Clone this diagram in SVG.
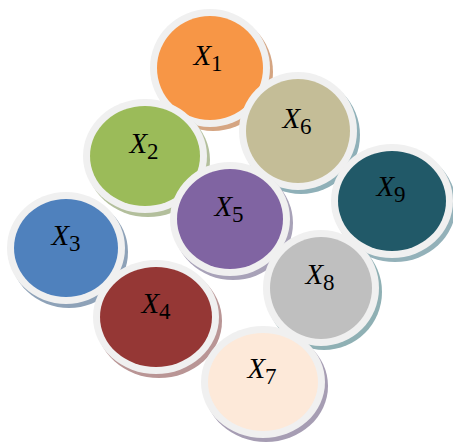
<svg xmlns="http://www.w3.org/2000/svg" width="453" height="445" viewBox="0 0 453 445">
<style>
.ring{fill:#f0f0f0}
.lbl{font-family:"Liberation Serif","DejaVu Serif",serif;font-size:29px;fill:#000;text-anchor:middle}
.v{font-style:italic}
.s{font-size:23px}
</style>
<rect width="453" height="445" fill="#ffffff"/>
<g id="X1">
<ellipse cx="213" cy="72" rx="60" ry="59" fill="#d5a582"/>
<ellipse class="ring" cx="210" cy="68" rx="60" ry="59"/>
<ellipse cx="210" cy="68" rx="53" ry="52" fill="#f79646"/>
<text class="lbl" x="208" y="65"><tspan class="v">X</tspan><tspan class="s" dy="6">1</tspan></text>
</g>
<g id="X6">
<ellipse cx="301" cy="135" rx="59" ry="59" fill="#8fb0b8"/>
<ellipse class="ring" cx="298" cy="131" rx="59" ry="59"/>
<ellipse cx="298" cy="131" rx="52" ry="52" fill="#c4bd97"/>
<text class="lbl" x="297" y="128"><tspan class="v">X</tspan><tspan class="s" dy="6">6</tspan></text>
</g>
<g id="X2">
<ellipse cx="148" cy="160" rx="62" ry="57" fill="#b3bf9c"/>
<ellipse class="ring" cx="145" cy="156" rx="62" ry="57"/>
<ellipse cx="145" cy="156" rx="55" ry="50" fill="#9bbb59"/>
<text class="lbl" x="144" y="153"><tspan class="v">X</tspan><tspan class="s" dy="6">2</tspan></text>
</g>
<g id="X9">
<ellipse cx="395" cy="205" rx="61" ry="57" fill="#93b1b9"/>
<ellipse class="ring" cx="392" cy="201" rx="61" ry="57"/>
<ellipse cx="392" cy="201" rx="54" ry="50" fill="#215968"/>
<text class="lbl" x="391" y="196"><tspan class="v">X</tspan><tspan class="s" dy="6">9</tspan></text>
</g>
<g id="X5">
<ellipse cx="233" cy="223" rx="60" ry="57" fill="#a8a2b8"/>
<ellipse class="ring" cx="230" cy="219" rx="60" ry="57"/>
<ellipse cx="230" cy="219" rx="53" ry="50" fill="#8064a2"/>
<text class="lbl" x="229" y="216"><tspan class="v">X</tspan><tspan class="s" dy="6">5</tspan></text>
</g>
<g id="X3">
<ellipse cx="69" cy="252" rx="59" ry="56" fill="#8ea2b8"/>
<ellipse class="ring" cx="66" cy="248" rx="59" ry="56"/>
<ellipse cx="66" cy="248" rx="52" ry="49" fill="#4f81bd"/>
<text class="lbl" x="66" y="245"><tspan class="v">X</tspan><tspan class="s" dy="6">3</tspan></text>
</g>
<g id="X8">
<ellipse cx="324" cy="292" rx="58" ry="58" fill="#8fb0b4"/>
<ellipse class="ring" cx="321" cy="288" rx="58" ry="58"/>
<ellipse cx="321" cy="288" rx="51" ry="51" fill="#bfbfbf"/>
<text class="lbl" x="320" y="284"><tspan class="v">X</tspan><tspan class="s" dy="6">8</tspan></text>
</g>
<g id="X4">
<ellipse cx="159" cy="321" rx="63" ry="57" fill="#b99595"/>
<ellipse class="ring" cx="156" cy="317" rx="63" ry="57"/>
<ellipse cx="156" cy="317" rx="56" ry="50" fill="#953735"/>
<text class="lbl" x="156" y="313"><tspan class="v">X</tspan><tspan class="s" dy="6">4</tspan></text>
</g>
<g id="X7">
<ellipse cx="266" cy="386" rx="62" ry="56" fill="#a69db3"/>
<ellipse class="ring" cx="263" cy="382" rx="62" ry="56"/>
<ellipse cx="263" cy="382" rx="55" ry="49" fill="#fde9d9"/>
<text class="lbl" x="262" y="378"><tspan class="v">X</tspan><tspan class="s" dy="6">7</tspan></text>
</g>
</svg>
